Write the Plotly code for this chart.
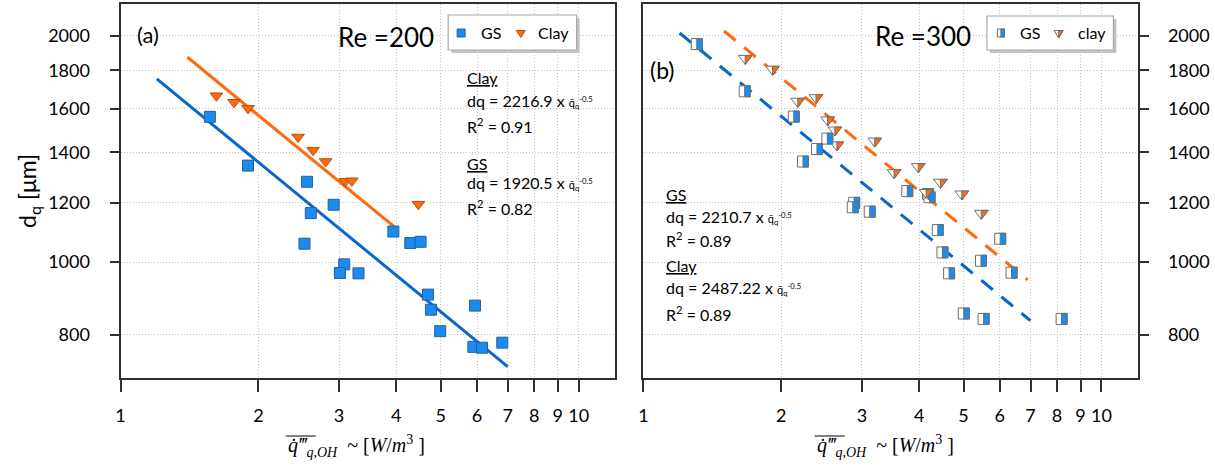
import plotly.graph_objects as go

W, H = 1215, 468

# ---------------- data ----------------
# panel (a)  Re = 200
a_gs_q = [1.567, 1.898, 2.554, 2.919, 2.602, 2.521, 3.941, 4.291, 4.519, 3.079,
          3.012, 3.307, 4.690, 4.760, 4.987, 5.941, 5.891, 6.153, 6.813]
a_gs_d = [1561, 1344, 1279, 1192, 1162, 1058, 1098, 1060, 1064, 993,
          967, 966, 905, 864, 809, 875, 771, 769, 781]
a_clay_q = [1.619, 1.769, 1.898, 2.441, 2.632, 2.804, 3.095, 3.199, 4.467]
a_clay_d = [1665, 1632, 1602, 1467, 1409, 1361, 1281, 1283, 1194]

# panel (b)  Re = 300
b_gs_q = [1.308, 1.664, 2.130, 2.521, 2.393, 2.231, 3.768, 4.180, 4.214, 2.885,
          2.865, 3.120, 4.393, 6.010, 4.496, 5.457, 4.649, 6.364, 5.005, 5.531, 8.185]
b_gs_d = [1951, 1688, 1562, 1460, 1414, 1361, 1243, 1232, 1220, 1199,
          1183, 1167, 1103, 1074, 1030, 1004, 966, 968, 854, 840, 840]
b_clay_q = [1.669, 1.914, 2.173, 2.381, 2.525, 2.618, 2.645, 3.199, 3.526, 3.981,
            4.143, 4.451, 4.955, 5.466]
b_clay_d = [1867, 1806, 1637, 1655, 1546, 1499, 1432, 1449, 1315, 1340,
            1238, 1277, 1232, 1161]

# fitted power laws  d = C * q^-0.5
fit_exp = -0.5
a_gs_C, a_gs_span = 1920.5, [1.2, 7.0]
a_clay_C, a_clay_span = 2216.9, [1.4, 4.0]
b_gs_C, b_gs_span = 2210.7, [1.2, 7.0]
b_clay_C, b_clay_span = 2487.22, [1.5, 6.9]

x_ticks = [1, 2, 3, 4, 5, 6, 7, 8, 9, 10]
y_ticks = [800, 1000, 1200, 1400, 1600, 1800, 2000]

# ---------------- styles ----------------
BLUE_LINE = "#0b66cc"
ORANGE_LINE = "#ff6a0a"
SQ_FILL = "#1a8cf0"
SQ_EDGE = "#2a5f9a"
TRI_FILL = "#ff6a10"
TRI_EDGE = "#b5500c"
HALF_EDGE = "#6e6e6e"
GRID = "#c4c4c4"
FRAME = "#303030"
FONT = "Lato"


def px(x):
    return x / W


def py(y):
    return 1 - y / H


def fit(C, span):
    return span, [C * q ** fit_exp for q in span]


fig = go.Figure()

# panel (a)
xs, ys = fit(a_gs_C, a_gs_span)
fig.add_trace(go.Scatter(x=xs, y=ys, mode="lines", line=dict(color=BLUE_LINE, width=3),
                         xaxis="x", yaxis="y", showlegend=False))
xs, ys = fit(a_clay_C, a_clay_span)
fig.add_trace(go.Scatter(x=xs, y=ys, mode="lines", line=dict(color=ORANGE_LINE, width=3),
                         xaxis="x", yaxis="y", showlegend=False))
fig.add_trace(go.Scatter(x=a_gs_q, y=a_gs_d, mode="markers", xaxis="x", yaxis="y",
                         marker=dict(symbol="square", size=11, color=SQ_FILL,
                                     line=dict(color=SQ_EDGE, width=1)), showlegend=False))
fig.add_trace(go.Scatter(x=a_clay_q, y=a_clay_d, mode="markers", xaxis="x", yaxis="y",
                         marker=dict(symbol="triangle-down", size=11, color=TRI_FILL,
                                     line=dict(color=TRI_EDGE, width=1)), showlegend=False))

# panel (b)
xs, ys = fit(b_gs_C, b_gs_span)
fig.add_trace(go.Scatter(x=xs, y=ys, mode="lines", xaxis="x2", yaxis="y2",
                         line=dict(color=BLUE_LINE, width=3, dash="15px,11px"), showlegend=False))
xs, ys = fit(b_clay_C, b_clay_span)
fig.add_trace(go.Scatter(x=xs, y=ys, mode="lines", xaxis="x2", yaxis="y2",
                         line=dict(color=ORANGE_LINE, width=3, dash="15px,11px"), showlegend=False))
SQ = 11
TR = 12
fig.add_trace(go.Scatter(x=b_gs_q, y=b_gs_d, mode="markers", xaxis="x2", yaxis="y2",
                         marker=dict(symbol="square", size=SQ, color="white",
                                     line=dict(color=HALF_EDGE, width=1)), showlegend=False))
fig.add_trace(go.Scatter(x=b_clay_q, y=b_clay_d, mode="markers", xaxis="x2", yaxis="y2",
                         marker=dict(symbol="triangle-down", size=TR, color="white",
                                     line=dict(color=HALF_EDGE, width=1)), showlegend=False))

shapes = []


def half_square(xa, ya, size, xref, yref, fill):
    r = size / 2
    path = f"M0,{-r:.2f} L{r:.2f},{-r:.2f} L{r:.2f},{r:.2f} L0,{r:.2f} Z"
    return dict(type="path", xref=xref, yref=yref, xsizemode="pixel", ysizemode="pixel",
                xanchor=xa, yanchor=ya, path=path,
                fillcolor=fill, line=dict(color=HALF_EDGE, width=1), layer="above")


def half_tri(xa, ya, size, xref, yref, fill):
    r = size / 2
    rt = r * 2 / 3 ** 0.5
    path = f"M0,{r/2:.2f} L{rt:.2f},{r/2:.2f} L0,{-r:.2f} Z"
    return dict(type="path", xref=xref, yref=yref, xsizemode="pixel", ysizemode="pixel",
                xanchor=xa, yanchor=ya, path=path,
                fillcolor=fill, line=dict(color=HALF_EDGE, width=1), layer="above")


for q, d in zip(b_gs_q, b_gs_d):
    shapes.append(half_square(q, d, SQ, "x2", "y2", SQ_FILL))
for q, d in zip(b_clay_q, b_clay_d):
    shapes.append(half_tri(q, d, TR, "x2", "y2", TRI_FILL))


# legend boxes (manual)
def legend_box(x0, y0, x1, y1):
    return [
        dict(type="rect", xref="paper", yref="paper", x0=px(x0 + 3), x1=px(x1 + 3),
             y0=py(y0 + 3), y1=py(y1 + 3), fillcolor="#c4c4c4", line=dict(width=0), layer="above"),
        dict(type="rect", xref="paper", yref="paper", x0=px(x0), x1=px(x1),
             y0=py(y0), y1=py(y1), fillcolor="white", line=dict(color="#a8a8a8", width=1.2),
             layer="above"),
    ]


shapes += legend_box(445, 15, 574, 50)
shapes += legend_box(986, 16, 1113, 50)

# left legend icons
shapes.append(dict(type="path", xref="paper", yref="paper", xsizemode="pixel", ysizemode="pixel",
                   xanchor=px(458), yanchor=py(33), path="M-4,-4 L4,-4 L4,4 L-4,4 Z",
                   fillcolor=SQ_FILL, line=dict(color=SQ_EDGE, width=1), layer="above"))
shapes.append(dict(type="path", xref="paper", yref="paper", xsizemode="pixel", ysizemode="pixel",
                   xanchor=px(518), yanchor=py(33), path="M-4.5,2.5 L4.5,2.5 L0,-4.5 Z",
                   fillcolor=TRI_FILL, line=dict(color=TRI_EDGE, width=1), layer="above"))
# right legend icons
shapes.append(dict(type="path", xref="paper", yref="paper", xsizemode="pixel", ysizemode="pixel",
                   xanchor=px(1000), yanchor=py(33), path="M-3.5,-4 L3.5,-4 L3.5,4 L-3.5,4 Z",
                   fillcolor="white", line=dict(color=HALF_EDGE, width=1), layer="above"))
shapes.append(dict(type="path", xref="paper", yref="paper", xsizemode="pixel", ysizemode="pixel",
                   xanchor=px(1000), yanchor=py(33), path="M0,-4 L3.5,-4 L3.5,4 L0,4 Z",
                   fillcolor=SQ_FILL, line=dict(color=HALF_EDGE, width=1), layer="above"))
shapes.append(dict(type="path", xref="paper", yref="paper", xsizemode="pixel", ysizemode="pixel",
                   xanchor=px(1058), yanchor=py(33), path="M-4.5,2.5 L4.5,2.5 L0,-5 Z",
                   fillcolor="white", line=dict(color=HALF_EDGE, width=1), layer="above"))
shapes.append(dict(type="path", xref="paper", yref="paper", xsizemode="pixel", ysizemode="pixel",
                   xanchor=px(1058), yanchor=py(33), path="M0,2.5 L4.5,2.5 L0,-5 Z",
                   fillcolor=TRI_FILL, line=dict(color=HALF_EDGE, width=1), layer="above"))

# overline on axis titles
for x0 in (282, 813):
    shapes.append(dict(type="line", xref="paper", yref="paper", x0=px(x0), x1=px(x0 + 30),
                       y0=py(436), y1=py(436), line=dict(color="black", width=1)))

ann = []


def text(x, y, s, size, anchor="left", **kw):
    d = dict(xref="paper", yref="paper", x=px(x), y=py(y), text=s, showarrow=False,
             xanchor=anchor, yanchor="middle", font=dict(family=FONT, size=size, color="black"))
    d.update(kw)
    ann.append(d)


QBAR = "<span style='font-size:11px'>q̄<sub>q</sub><sup>-0.5</sup></span>"

# panel (a) texts
text(131, 35, "(a)", 22)
text(332, 37, "Re =200", 26)
text(476, 33, "GS", 16)
text(533, 33, "Clay", 16)
text(462, 78, "<u>Clay</u>", 16)
text(462, 101, "dq = 2216.9 x " + QBAR, 16)
text(462, 126, "R<sup>2</sup> = 0.91", 16)
text(462, 163, "<u>GS</u>", 16)
text(462, 183, "dq = 1920.5 x " + QBAR, 16)
text(462, 207, "R<sup>2</sup> = 0.82", 16)

# panel (b) texts
text(646, 70, "(b)", 23)
text(872, 36, "Re =300", 26)
text(1017, 33, "GS", 16)
text(1075, 33, "clay", 16)
text(662, 194, "<u>GS</u>", 16)
text(662, 217, "dq = 2210.7 x " + QBAR, 16)
text(662, 240, "R<sup>2</sup> = 0.89", 16)
text(662, 265, "<u>Clay</u>", 16)
text(662, 288, "dq = 2487.22 x " + QBAR, 16)
text(662, 313, "R<sup>2</sup> = 0.89", 16)

# y title
text(23, 191, "d<sub>q</sub> [μm]", 23, anchor="center", textangle=-90)

# x titles
XT = "<i>q̇‴</i><sub><i>q,OH</i></sub>  ~ [<i>W</i>/<i>m</i><sup>3</sup> ]"
for x0 in (282, 813):
    ann.append(dict(xref="paper", yref="paper", x=px(x0), y=py(446), text=XT, showarrow=False,
                    xanchor="left", yanchor="middle",
                    font=dict(family="Liberation Serif", size=20, color="black")))

XR = [0, 497 / 460]
YR = [2.8456, 3.3436]
dom_y = [90 / H, (H - 4) / H]

xaxis_common = dict(type="log", range=XR, tickvals=x_ticks, ticktext=[str(v) for v in x_ticks],
                    showgrid=True, gridcolor=GRID, griddash="1px,2px", gridwidth=1,
                    showline=True, mirror=True, linecolor=FRAME, linewidth=2,
                    ticks="outside", ticklen=12, tickwidth=1.5, tickcolor=FRAME,
                    tickfont=dict(family=FONT, size=18, color="black"),
                    ticklabelstandoff=8,
                    zeroline=False, fixedrange=True)
yaxis_common = dict(type="log", range=YR, tickvals=y_ticks, ticktext=[str(v) for v in y_ticks],
                    showgrid=True, gridcolor=GRID, griddash="1px,2px", gridwidth=1,
                    showline=True, mirror=True, linecolor=FRAME, linewidth=2,
                    ticks="outside", ticklen=9, tickwidth=1.5, tickcolor=FRAME,
                    tickfont=dict(family=FONT, size=18, color="black"),
                    zeroline=False, fixedrange=True, domain=dom_y)

fig.update_layout(
    width=W, height=H,
    margin=dict(l=0, r=0, t=0, b=0),
    paper_bgcolor="white", plot_bgcolor="white",
    showlegend=False,
    xaxis=dict(domain=[116 / W, 613 / W], anchor="y", **xaxis_common),
    yaxis=dict(anchor="x", side="left", ticklabelstandoff=16, **yaxis_common),
    xaxis2=dict(domain=[641 / W, 1138 / W], anchor="y2", **xaxis_common),
    yaxis2=dict(anchor="x2", side="right", ticklabelstandoff=15, **yaxis_common),
    shapes=shapes,
    annotations=ann,
)

fig.write_html("out.html")
